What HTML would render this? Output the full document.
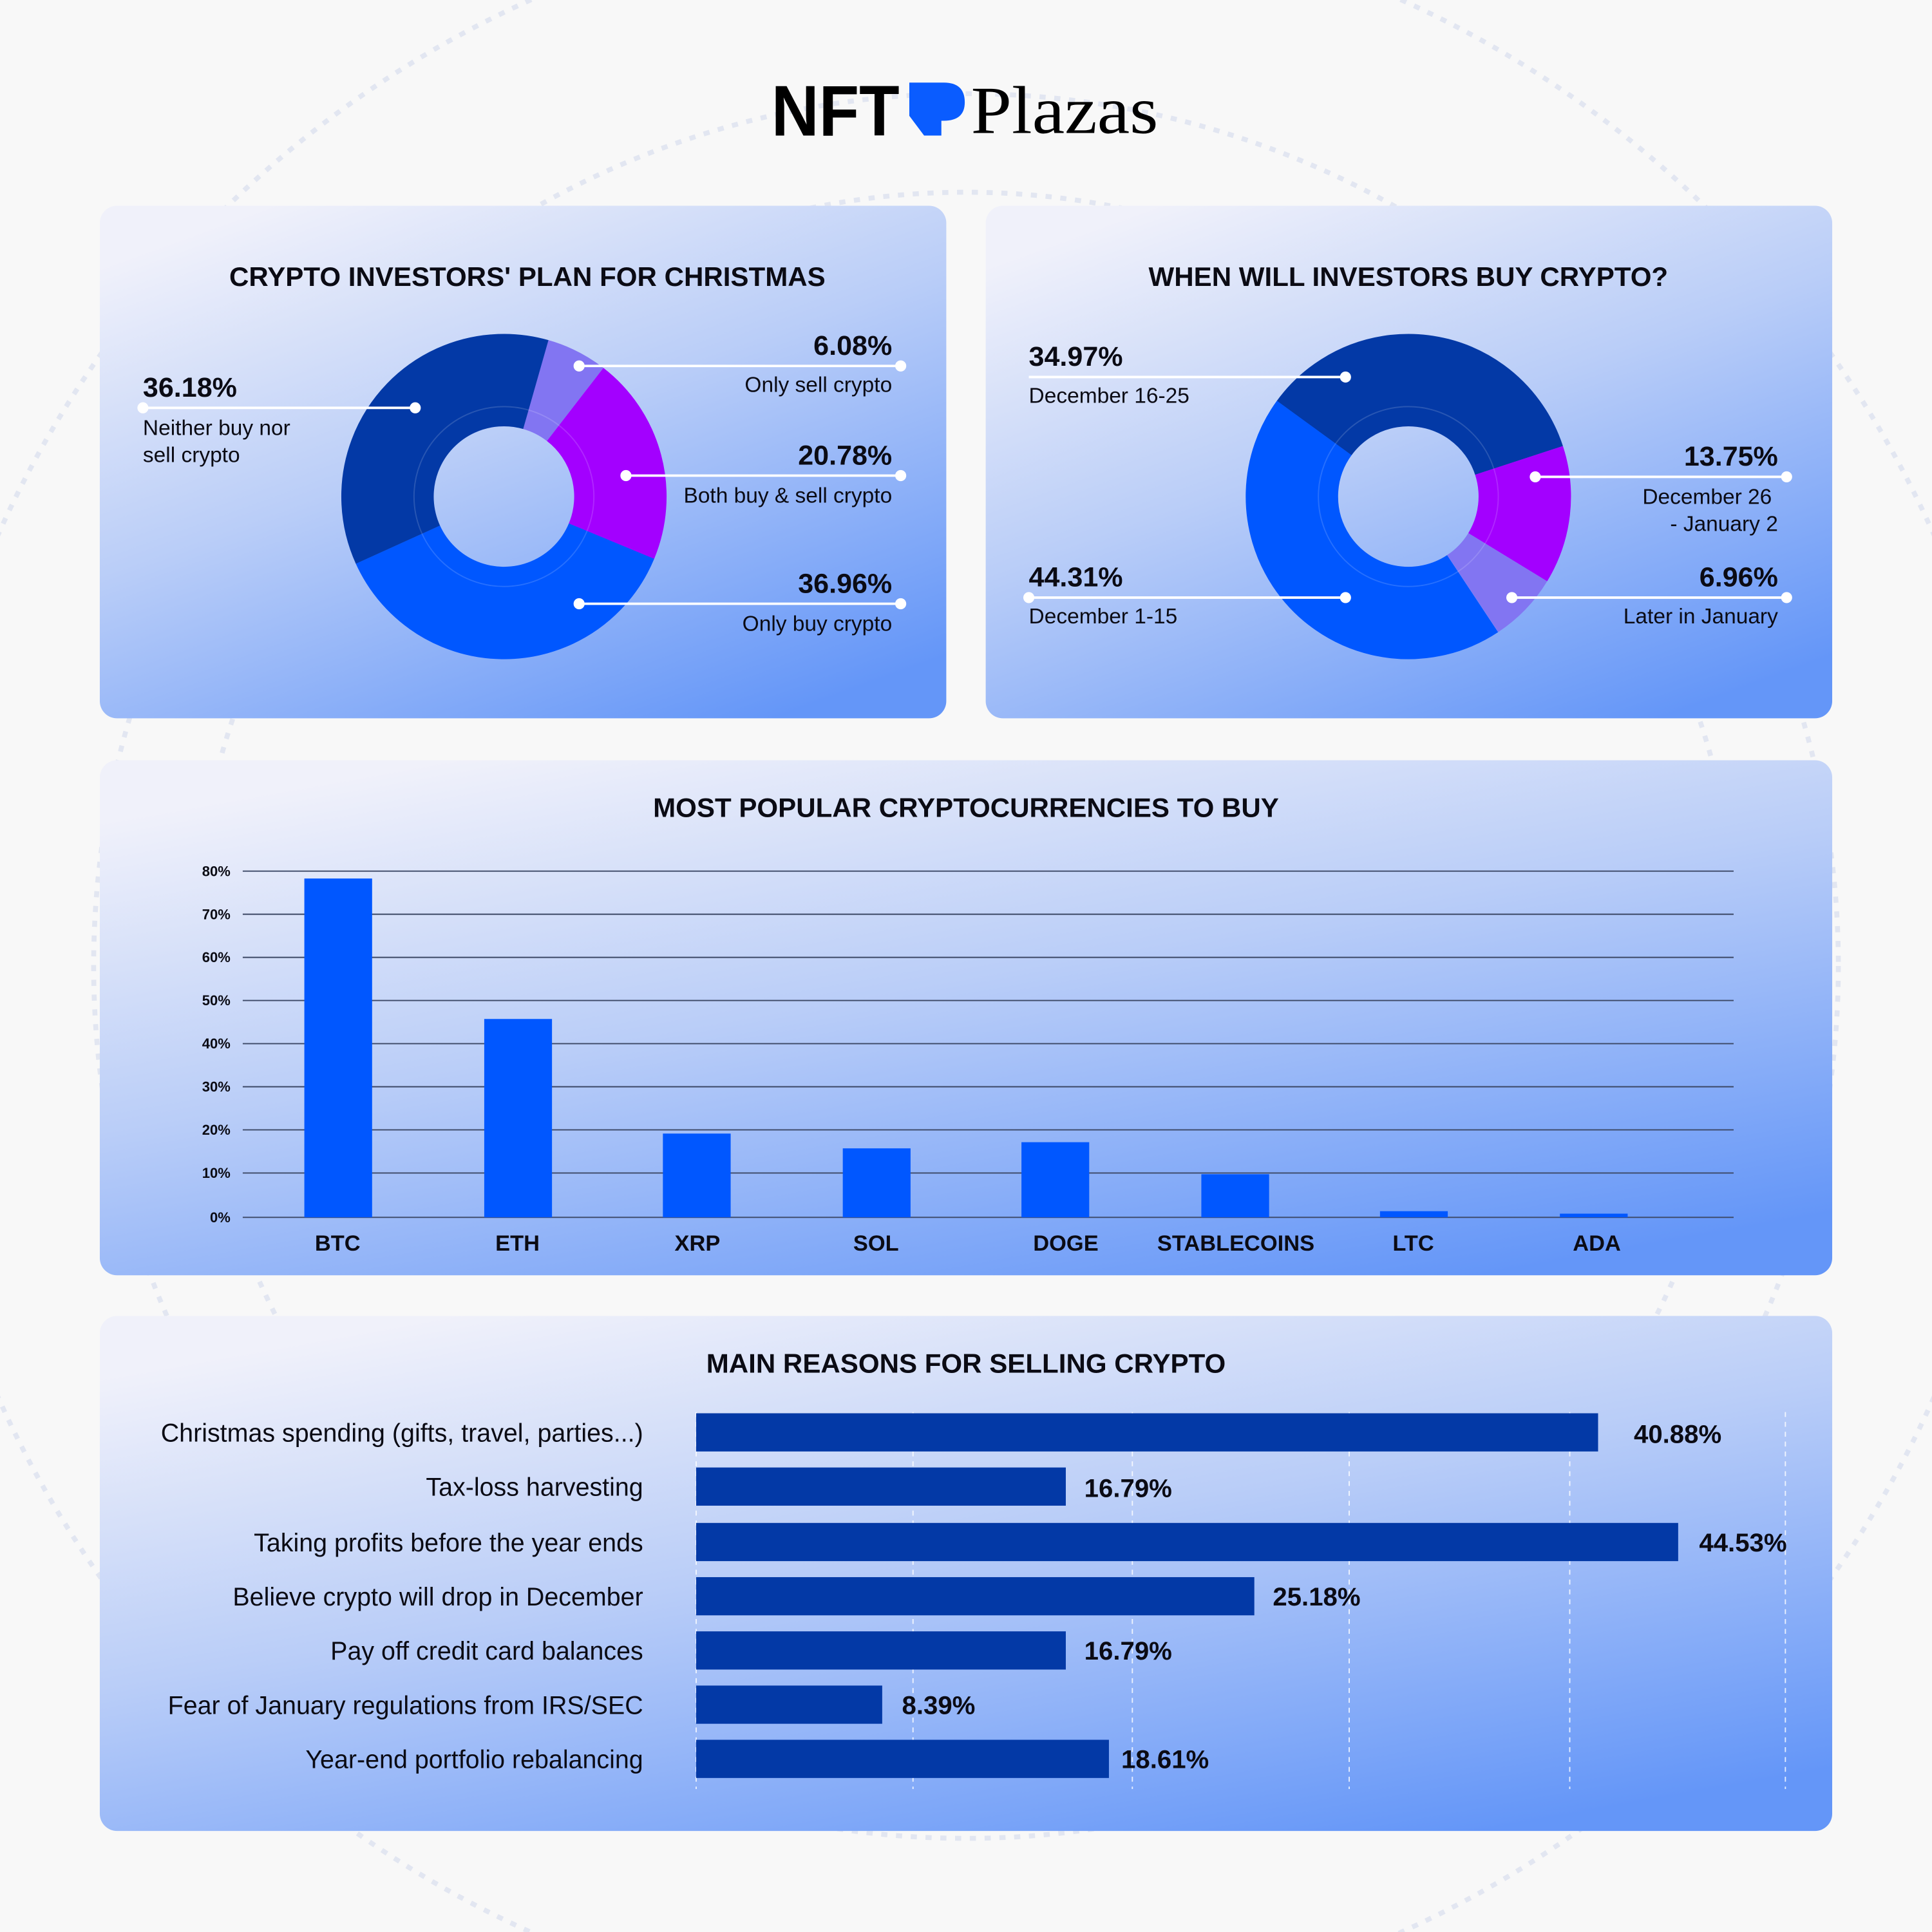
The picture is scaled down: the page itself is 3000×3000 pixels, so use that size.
<!DOCTYPE html>
<html><head><meta charset="utf-8"><style>
html,body{margin:0;padding:0;background:#f8f8f8;}
svg{display:block;}
text{font-family:"Liberation Sans",sans-serif;fill:#0b0b14;}
.t{font-weight:bold;font-size:22px;text-anchor:middle;}
.p{font-weight:bold;font-size:22.5px;}
.l{font-size:17.5px;}
.yt{font-weight:bold;font-size:11.5px;text-anchor:end;}
.xl{font-weight:bold;font-size:18px;text-anchor:middle;}
.cl{font-size:20.6px;text-anchor:end;}
.vl{font-weight:bold;font-size:21px;}
</style></head><body>
<svg width="3000" height="3000" viewBox="0 0 1568 1568" xmlns="http://www.w3.org/2000/svg">
<defs>
<linearGradient id="g" x1="0.2" y1="0" x2="0.8" y2="1">
<stop offset="0" stop-color="#f0f1fa"/>
<stop offset="0.45" stop-color="#b9cdf8"/>
<stop offset="1" stop-color="#6496f8"/>
</linearGradient>
</defs>
<rect width="1568" height="1568" fill="#f8f8f8"/>
<g fill="none" stroke="#e2e6f1" stroke-width="4" stroke-dasharray="5 7">
<circle cx="784" cy="784" r="708"/>
<circle cx="784" cy="784" r="628"/>
<circle cx="784" cy="784" r="860"/>
</g>
<!-- logo -->
<text x="626" y="110" font-size="58" font-weight="bold" textLength="104" lengthAdjust="spacingAndGlyphs" style="fill:#000">NFT</text>
<path d="M738 67 H766 Q783 67 783 83 Q783 98 766 98 H764 V110 H750 L738 94 Z" fill="#0a5cff"/>
<text x="788" y="108" font-size="55" textLength="152" lengthAdjust="spacingAndGlyphs" style="font-family:'Liberation Serif',serif;fill:#000">Plazas</text>

<!-- cards -->
<rect x="81" y="167" width="687" height="416" rx="14" fill="url(#g)"/>
<rect x="800" y="167" width="687" height="416" rx="14" fill="url(#g)"/>
<rect x="81" y="617" width="1406" height="418" rx="14" fill="url(#g)"/>
<rect x="81" y="1068" width="1406" height="418" rx="14" fill="url(#g)"/>

<!-- donut 1 -->
<text class="t" x="428" y="232">CRYPTO INVESTORS' PLAN FOR CHRISTMAS</text>
<g fill="none" stroke-width="75">
<circle cx="409" cy="403" r="94.5" stroke="#8275f2" stroke-dasharray="36.1 1000" transform="rotate(-74.2 409 403)"/>
<circle cx="409" cy="403" r="94.5" stroke="#a300ff" stroke-dasharray="123.4 1000" transform="rotate(-52.3 409 403)"/>
<circle cx="409" cy="403" r="94.5" stroke="#0057ff" stroke-dasharray="219.5 1000" transform="rotate(22.5 409 403)"/>
<circle cx="409" cy="403" r="94.5" stroke="#0339a6" stroke-dasharray="214.8 1000" transform="rotate(155.6 409 403)"/>
</g>
<circle cx="409" cy="403" r="73" fill="none" stroke="#ffffff" stroke-opacity="0.15" stroke-width="1"/>
<g stroke="#fff" stroke-width="2" fill="#fff">
<line x1="116" y1="331" x2="337" y2="331"/><circle cx="116" cy="331" r="3.5"/><circle cx="337" cy="331" r="3.5"/>
<line x1="470" y1="297" x2="731" y2="297"/><circle cx="470" cy="297" r="3.5"/><circle cx="731" cy="297" r="3.5"/>
<line x1="508" y1="386" x2="731" y2="386"/><circle cx="508" cy="386" r="3.5"/><circle cx="731" cy="386" r="3.5"/>
<line x1="470" y1="490" x2="731" y2="490"/><circle cx="470" cy="490" r="3.5"/><circle cx="731" cy="490" r="3.5"/>
</g>
<text class="p" x="116" y="322">36.18%</text>
<text class="l" x="116" y="353">Neither buy nor</text>
<text class="l" x="116" y="375">sell crypto</text>
<g text-anchor="end">
<text class="p" x="724" y="288">6.08%</text>
<text class="l" x="724" y="318">Only sell crypto</text>
<text class="p" x="724" y="377">20.78%</text>
<text class="l" x="724" y="408">Both buy &amp; sell crypto</text>
<text class="p" x="724" y="481">36.96%</text>
<text class="l" x="724" y="512">Only buy crypto</text>
</g>

<!-- donut 2 -->
<text class="t" x="1143" y="232">WHEN WILL INVESTORS BUY CRYPTO?</text>
<g fill="none" stroke-width="75">
<circle cx="1143" cy="403" r="94.5" stroke="#0339a6" stroke-dasharray="207.6 1000" transform="rotate(216 1143 403)"/>
<circle cx="1143" cy="403" r="94.5" stroke="#a300ff" stroke-dasharray="81.6 1000" transform="rotate(-18.1 1143 403)"/>
<circle cx="1143" cy="403" r="94.5" stroke="#8275f2" stroke-dasharray="41.3 1000" transform="rotate(31.4 1143 403)"/>
<circle cx="1143" cy="403" r="94.5" stroke="#0057ff" stroke-dasharray="263.1 1000" transform="rotate(56.5 1143 403)"/>
</g>
<circle cx="1143" cy="403" r="73" fill="none" stroke="#ffffff" stroke-opacity="0.15" stroke-width="1"/>
<g stroke="#fff" stroke-width="2" fill="#fff">
<line x1="835" y1="306" x2="1092" y2="306"/><circle cx="1092" cy="306" r="3.5"/>
<line x1="835" y1="485" x2="1092" y2="485"/><circle cx="835" cy="485" r="3.5"/><circle cx="1092" cy="485" r="3.5"/>
<line x1="1246" y1="387" x2="1450" y2="387"/><circle cx="1246" cy="387" r="3.5"/><circle cx="1450" cy="387" r="3.5"/>
<line x1="1227" y1="485" x2="1450" y2="485"/><circle cx="1227" cy="485" r="3.5"/><circle cx="1450" cy="485" r="3.5"/>
</g>
<text class="p" x="835" y="297">34.97%</text>
<text class="l" x="835" y="327">December 16-25</text>
<text class="p" x="835" y="476">44.31%</text>
<text class="l" x="835" y="506">December 1-15</text>
<g text-anchor="end">
<text class="p" x="1443" y="378">13.75%</text>
<text class="l" x="1438" y="409">December 26</text>
<text class="l" x="1443" y="431">- January 2</text>
<text class="p" x="1443" y="476">6.96%</text>
<text class="l" x="1443" y="506">Later in January</text>
</g>

<!-- vertical bar chart -->
<text class="t" x="784" y="663">MOST POPULAR CRYPTOCURRENCIES TO BUY</text>
<g stroke="#3c4866" stroke-width="1">
<line x1="197" y1="707" x2="1407" y2="707"/>
<line x1="197" y1="742" x2="1407" y2="742"/>
<line x1="197" y1="777" x2="1407" y2="777"/>
<line x1="197" y1="812" x2="1407" y2="812"/>
<line x1="197" y1="847" x2="1407" y2="847"/>
<line x1="197" y1="882" x2="1407" y2="882"/>
<line x1="197" y1="917" x2="1407" y2="917"/>
<line x1="197" y1="952" x2="1407" y2="952"/>
<line x1="197" y1="988" x2="1407" y2="988"/>
</g>
<text class="yt" x="187" y="711">80%</text>
<text class="yt" x="187" y="746">70%</text>
<text class="yt" x="187" y="781">60%</text>
<text class="yt" x="187" y="816">50%</text>
<text class="yt" x="187" y="851">40%</text>
<text class="yt" x="187" y="886">30%</text>
<text class="yt" x="187" y="921">20%</text>
<text class="yt" x="187" y="956">10%</text>
<text class="yt" x="187" y="992">0%</text>
<g fill="#0057ff">
<rect x="247" y="713" width="55" height="275"/>
<rect x="393" y="827" width="55" height="161"/>
<rect x="538" y="920" width="55" height="68"/>
<rect x="684" y="932" width="55" height="56"/>
<rect x="829" y="927" width="55" height="61"/>
<rect x="975" y="953" width="55" height="35"/>
<rect x="1120" y="983" width="55" height="5"/>
<rect x="1266" y="985" width="55" height="3"/>
</g>
<text class="xl" x="274" y="1015">BTC</text>
<text class="xl" x="420" y="1015">ETH</text>
<text class="xl" x="566" y="1015">XRP</text>
<text class="xl" x="711" y="1015">SOL</text>
<text class="xl" x="865" y="1015">DOGE</text>
<text class="xl" x="1003" y="1015">STABLECOINS</text>
<text class="xl" x="1147" y="1015">LTC</text>
<text class="xl" x="1296" y="1015">ADA</text>

<!-- horizontal bar chart -->
<text class="t" x="784" y="1114">MAIN REASONS FOR SELLING CRYPTO</text>
<g stroke="#ffffff" stroke-opacity="0.8" stroke-width="1" stroke-dasharray="4 4">
<line x1="565" y1="1146" x2="565" y2="1452"/>
<line x1="741" y1="1146" x2="741" y2="1452"/>
<line x1="919" y1="1146" x2="919" y2="1452"/>
<line x1="1095" y1="1146" x2="1095" y2="1452"/>
<line x1="1274" y1="1146" x2="1274" y2="1452"/>
<line x1="1449" y1="1146" x2="1449" y2="1452"/>
</g>
<g fill="#0339a6">
<rect x="565" y="1147" width="732" height="31"/>
<rect x="565" y="1191" width="300" height="31"/>
<rect x="565" y="1236" width="797" height="31"/>
<rect x="565" y="1280" width="453" height="31"/>
<rect x="565" y="1324" width="300" height="31"/>
<rect x="565" y="1368" width="151" height="31"/>
<rect x="565" y="1412" width="335" height="31"/>
</g>
<text class="cl" x="522" y="1170">Christmas spending (gifts, travel, parties...)</text>
<text class="cl" x="522" y="1214">Tax-loss harvesting</text>
<text class="cl" x="522" y="1259">Taking profits before the year ends</text>
<text class="cl" x="522" y="1303">Believe crypto will drop in December</text>
<text class="cl" x="522" y="1347">Pay off credit card balances</text>
<text class="cl" x="522" y="1391">Fear of January regulations from IRS/SEC</text>
<text class="cl" x="522" y="1435">Year-end portfolio rebalancing</text>
<text class="vl" x="1326" y="1171">40.88%</text>
<text class="vl" x="880" y="1215">16.79%</text>
<text class="vl" x="1379" y="1259">44.53%</text>
<text class="vl" x="1033" y="1303">25.18%</text>
<text class="vl" x="880" y="1347">16.79%</text>
<text class="vl" x="732" y="1391">8.39%</text>
<text class="vl" x="910" y="1435">18.61%</text>
</svg>
</body></html>
